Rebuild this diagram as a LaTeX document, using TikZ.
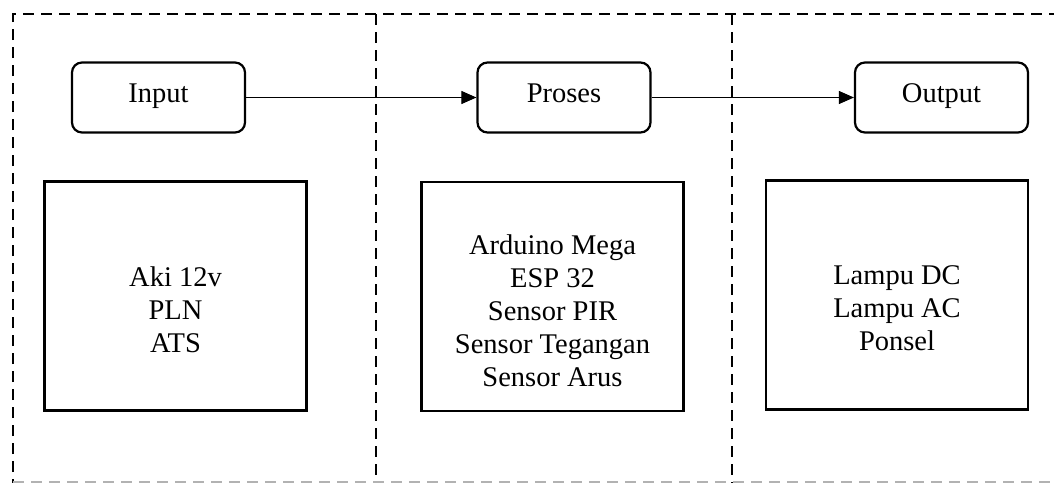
\documentclass[tikz,border=0pt]{standalone}
\usepackage{fontspec}
\setmainfont{Liberation Serif}
\usetikzlibrary{arrows.meta}
\begin{document}
\begin{tikzpicture}[x=1pt,y=-1pt,
  headbox/.style={draw, line width=2.2pt, rounded corners=10pt, minimum width=173pt, minimum height=70pt, inner sep=0pt, text height=15pt, text depth=6pt, font=\fontsize{28.5}{33}\selectfont},
  bigbox/.style={draw, line width=2.5pt, minimum width=262pt, minimum height=229pt, inner sep=0pt},
  content/.style={align=center, inner sep=0pt, font=\fontsize{28.5}{33}\selectfont},
  frameline/.style={dash pattern=on 11pt off 7pt, line width=1.6pt},
  flow/.style={line width=1pt, -{Triangle[length=15pt,width=13pt]}}]
\useasboundingbox (0,0) rectangle (1054,482);
% dashed frame
\coordinate (fTL) at (13,14);
\coordinate (fBL) at (13,490);
\coordinate (fTR) at (1070,14);
\coordinate (fBR) at (1070,482);
\coordinate (d1T) at (376,14);
\coordinate (d1B) at (376,490);
\coordinate (d2T) at (732,14);
\coordinate (d2B) at (732,490);
\draw[frameline] (fBL) -- (fTL) -- (fTR);
\draw[frameline] (d1T) -- (d1B);
\draw[frameline] (d2T) -- (d2B);
\draw[frameline, gray!60] (13,482) -- (fBR);
% header boxes
\node[headbox] (input) at (158.5,97.5) {Input};
\node[headbox] (proses) at (564,97.5) {Proses};
\node[headbox] (output) at (941.5,97.5) {Output};
% content boxes
\node[bigbox] (inbox) at (175.5,296) {};
\node[bigbox] (prbox) at (552.5,296.5) {};
\node[bigbox] (oubox) at (897,295) {};
\node[content] (intext) at (175.5,310) {Aki 12v\\PLN\\ATS};
\node[content] (prtext) at (552.5,311) {Arduino Mega\\ESP 32\\Sensor PIR\\Sensor Tegangan\\Sensor Arus};
\node[content] (outext) at (897,308) {Lampu DC\\Lampu AC\\Ponsel};
% arrows
\draw[flow] (input.east) -- (proses.west);
\draw[flow] (proses.east) -- (output.west);
\end{tikzpicture}
\end{document}
